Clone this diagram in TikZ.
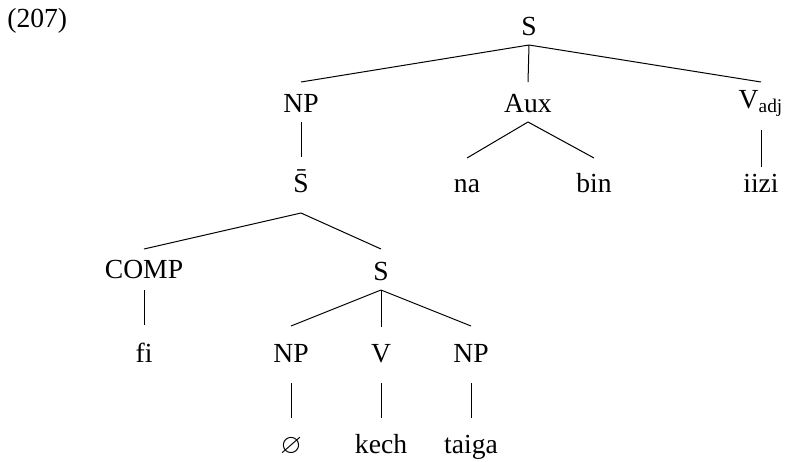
\documentclass[tikz,border=0pt]{standalone}
\usepackage{amssymb}
\usepackage{fontspec}
\setmainfont{Liberation Serif}
\begin{document}
\begin{tikzpicture}[x=0.5pt,y=-0.5pt,
  lab/.style={anchor=base, inner sep=0pt, font=\fontsize{13.8}{16}\selectfont},
  edge/.style={draw=black, line width=0.5pt}]
\useasboundingbox (0,0) rectangle (786,461);
\node[lab, anchor=base west] (num) at (7,27) {(207)};
% level 0
\node[lab] (s0) at (529,35) {S};
% level 1
\node[lab] (np1) at (301,112) {NP};
\node[lab] (aux) at (528,112) {Aux};
\node[lab] (vadj) at (761,108) {V\textsubscript{adj}};
% level 2
\node[lab] (sbar) at (301,192) {S̄};
\node[lab] (na) at (467,192) {na};
\node[lab] (bin) at (594,192) {bin};
\node[lab] (iizi) at (761,192) {iizi};
% level 3
\node[lab] (comp) at (144,278) {COMP};
\node[lab] (s3) at (381,280) {S};
% level 4
\node[lab] (fi) at (144,362) {fi};
\node[lab] (np4a) at (291,362) {NP};
\node[lab] (v4) at (381,362) {V};
\node[lab] (np4b) at (471,362) {NP};
% level 5
\node[lab] (nul) at (291,453) {$\varnothing$};
\node[lab] (kech) at (381,453) {kech};
\node[lab] (taiga) at (471,453) {taiga};
% edges
\draw[edge] ([yshift=-5pt]s0.base) -- ([yshift=15pt]np1.base);
\draw[edge] ([yshift=-5pt]s0.base) -- ([yshift=15pt]aux.base);
\draw[edge] ([yshift=-5pt]s0.base) -- ([yshift=13pt]vadj.base);
\draw[edge] ([yshift=-5pt]np1.base) -- ([yshift=17.5pt]sbar.base);
\draw[edge] ([yshift=-5pt]aux.base) -- ([yshift=17pt]na.base);
\draw[edge] ([yshift=-5pt]aux.base) -- ([yshift=17pt]bin.base);
\draw[edge] ([yshift=-11pt]vadj.base) -- ([yshift=12.5pt]iizi.base);
\draw[edge] ([yshift=-10.5pt]sbar.base) -- ([yshift=14.5pt]comp.base);
\draw[edge] ([yshift=-10.5pt]sbar.base) -- ([yshift=15.5pt]s3.base);
\draw[edge] ([yshift=-6pt]comp.base) -- ([yshift=18.5pt]fi.base);
\draw[edge] ([yshift=-5pt]s3.base) -- ([yshift=18pt]np4a.base);
\draw[edge] ([yshift=-5pt]s3.base) -- ([yshift=17.5pt]v4.base);
\draw[edge] ([yshift=-5pt]s3.base) -- ([yshift=18pt]np4b.base);
\draw[edge] ([yshift=-10.5pt]np4a.base) -- ([yshift=17.5pt]nul.base);
\draw[edge] ([yshift=-10.5pt]v4.base) -- ([yshift=17.5pt]kech.base);
\draw[edge] ([yshift=-10.5pt]np4b.base) -- ([yshift=17.5pt]taiga.base);
\end{tikzpicture}
\end{document}
